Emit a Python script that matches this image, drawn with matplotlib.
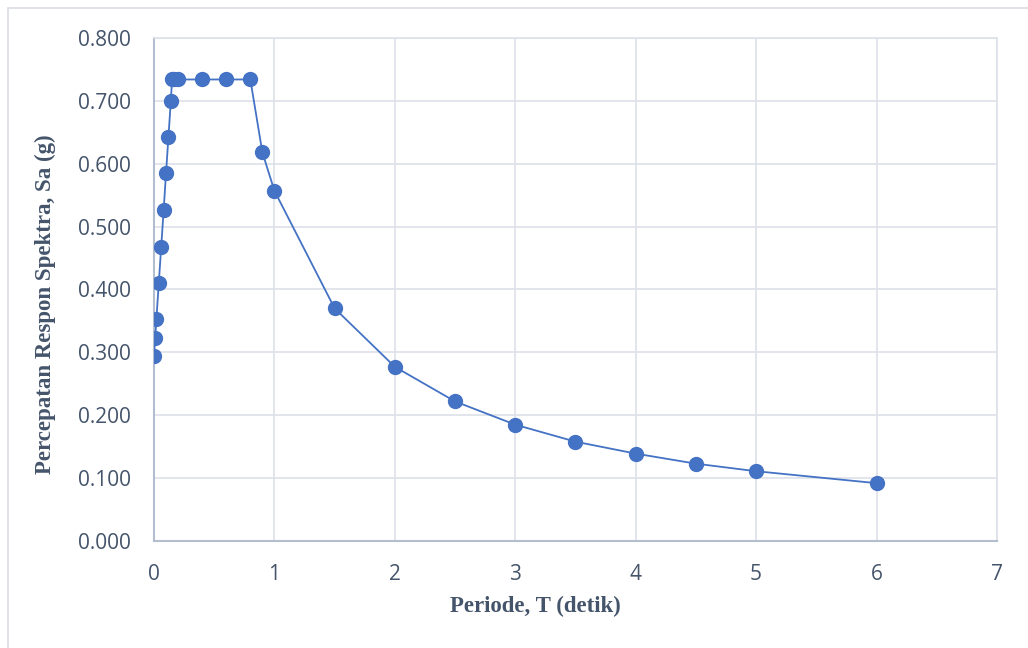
import matplotlib.pyplot as plt
from matplotlib.patches import Rectangle

# periode T (detik) and spectral acceleration Sa (g)
periode = [0, 0.01, 0.02, 0.04, 0.06, 0.08, 0.10, 0.12, 0.14, 0.15, 0.17, 0.2,
           0.4, 0.6, 0.8, 0.9, 1.0, 1.5, 2.0, 2.5, 3.0, 3.5, 4.0, 4.5, 5.0, 6.0]
sa = [0.294, 0.323, 0.353, 0.411, 0.468, 0.526, 0.585, 0.643, 0.700, 0.734, 0.734, 0.734,
      0.734, 0.734, 0.734, 0.618, 0.557, 0.370, 0.277, 0.222, 0.185, 0.158, 0.139, 0.123,
      0.111, 0.092]

x_ticks = [0, 1, 2, 3, 4, 5, 6, 7]
y_ticks = [0.0, 0.1, 0.2, 0.3, 0.4, 0.5, 0.6, 0.7, 0.8]

text_color = "#44546A"
blue = "#4472C4"

fig = plt.figure(figsize=(10.28, 6.48), dpi=100)
ax = fig.add_axes([0.1498, 0.1651, 0.8200, 0.7763])

# outer chart frame
fig.patches.append(Rectangle((8 / 1028, -0.05), 1.1, (648 - 8) / 648 + 0.05,
                             transform=fig.transFigure, fill=False,
                             edgecolor="#D9DDE3", linewidth=1.2))

ax.plot(periode, sa, color=blue, linewidth=1.3, marker="o", markersize=10,
        markerfacecolor=blue, markeredgecolor=blue, zorder=3)

ax.set_xlim(0, 7)
ax.set_ylim(0, 0.8)
ax.set_xticks(x_ticks)
ax.set_yticks(y_ticks)
ax.set_yticklabels([f"{v:.3f}" for v in y_ticks])
ax.grid(True, color="#DDE2E9", linewidth=1.2)
ax.set_axisbelow(True)
ax.tick_params(axis="y", length=0, pad=16.5, labelsize=15, labelcolor=text_color)
ax.tick_params(axis="x", length=0, pad=16.5, labelsize=15, labelcolor=text_color)
for lbl in ax.get_xticklabels() + ax.get_yticklabels():
    lbl.set_family("Open Sans")

for side in ["top", "right"]:
    ax.spines[side].set_color("#DDE2E9")
    ax.spines[side].set_linewidth(1.2)
for side in ["left", "bottom"]:
    ax.spines[side].set_color("#B4BDD0")
    ax.spines[side].set_linewidth(1.5)

ax.set_xlabel("Periode, T (detik)", family="Liberation Serif", fontweight="bold",
              fontsize=16.5, color=text_color, va="center")
ax.set_ylabel("Percepatan Respon Spektra, Sa (g)", family="Liberation Serif",
              fontweight="bold", fontsize=16.5, color=text_color, va="center")
ax.xaxis.set_label_coords(0.453, -0.131)
ax.yaxis.set_label_coords(-0.129, 0.471)

plt.savefig("out.png", dpi=100)
plt.close()
